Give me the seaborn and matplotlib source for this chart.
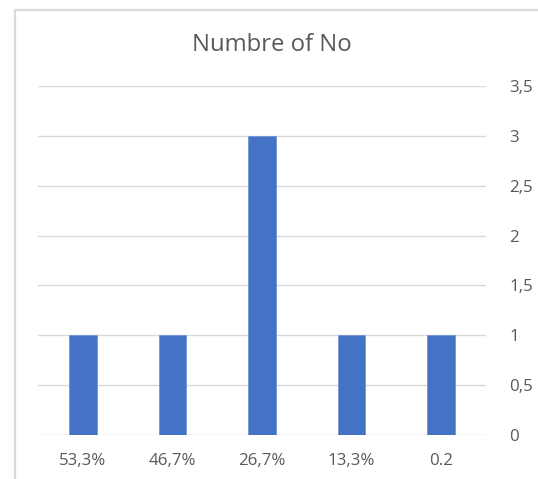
import matplotlib
matplotlib.use("Agg")
import matplotlib.pyplot as plt
import seaborn as sns
import pandas as pd
from matplotlib.lines import Line2D

categories = ["53,3%", "46,7%", "26,7%", "13,3%", "0.2"]
counts = [1, 1, 3, 1, 1]
y_ticks = [0, 0.5, 1, 1.5, 2, 2.5, 3, 3.5]
y_tick_labels = ["0", "0,5", "1", "1,5", "2", "2,5", "3", "3,5"]
title = "Numbre of No"

sns.set_theme(style="white")
plt.rcParams["font.family"] = ["Open Sans", "DejaVu Sans"]

W, H = 538, 479
fig = plt.figure(figsize=(W / 100, H / 100), dpi=100)
fig.patch.set_facecolor("white")

# chart border (left and top edges visible)
fig.add_artist(Line2D([14.5 / W, 14.5 / W], [0, 1 - 9.5 / H], transform=fig.transFigure,
                      color="#d9d9d9", lw=1.6))
fig.add_artist(Line2D([14.5 / W, 1], [1 - 9.5 / H, 1 - 9.5 / H], transform=fig.transFigure,
                      color="#d9d9d9", lw=1.6))

left, right = 38 / W, 486 / W
bottom, top = 1 - 435 / H, 1 - 86 / H
ax = fig.add_axes([left, bottom, right - left, top - bottom])

df = pd.DataFrame({"category": categories, "count": counts})
sns.barplot(data=df, x="category", y="count", color="#4472C4", width=0.31,
            saturation=1, ax=ax, edgecolor="#6f93d6", linewidth=0.6)

ax.set_ylim(0, 3.5)
ax.set_xlim(-0.5, len(categories) - 0.5)
ax.set_yticks(y_ticks)
ax.set_yticklabels(y_tick_labels)
ax.yaxis.tick_right()
ax.tick_params(axis="y", length=0, pad=17, labelsize=12.2, labelcolor="#595959")
ax.tick_params(axis="x", length=0, pad=13, labelsize=12.2, labelcolor="#595959")
for lbl in ax.get_yticklabels():
    lbl.set_horizontalalignment("left")
ax.set_xlabel("")
ax.set_ylabel("")
ax.grid(axis="y", color="#d9d9d9", lw=1)
ax.set_axisbelow(True)
for s in ax.spines.values():
    s.set_visible(False)

fig.text(272 / W, 1 - 45 / H, title, ha="center", va="center", fontsize=17.2, color="#595959")

fig.savefig("out.png", dpi=100, facecolor="white")
